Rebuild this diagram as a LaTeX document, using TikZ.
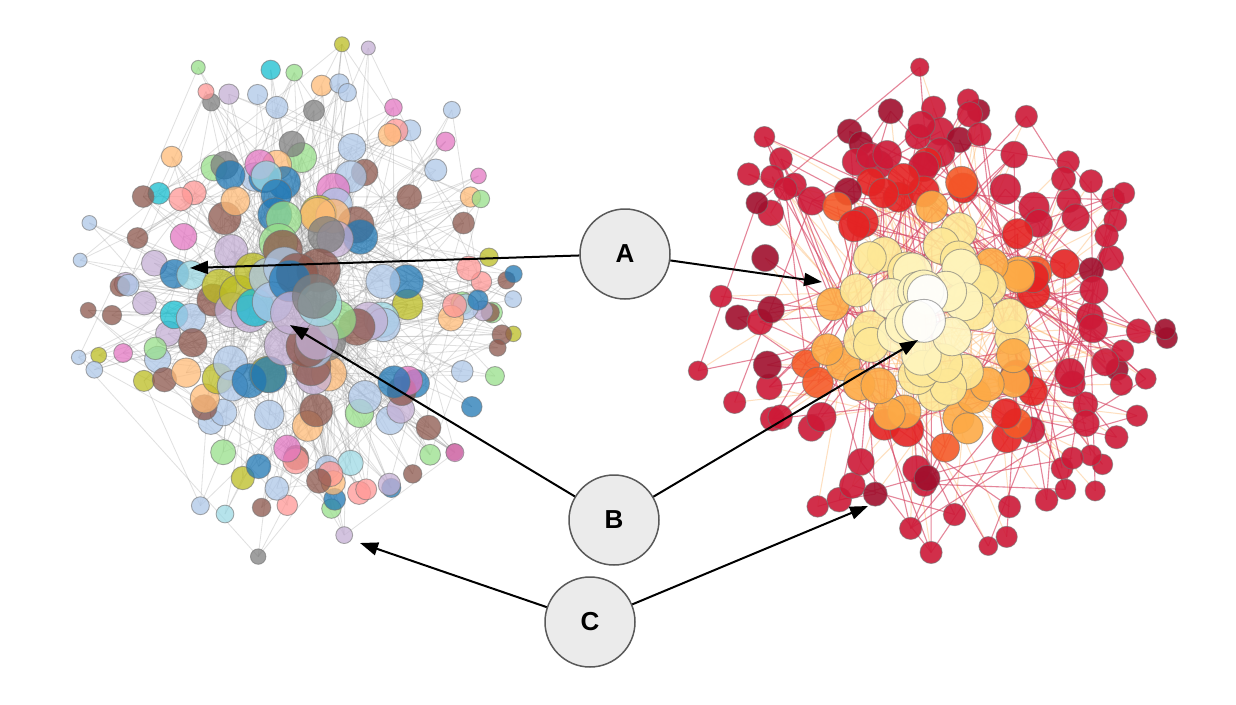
\documentclass[tikz,border=0pt]{standalone}
\usepackage{fontspec}
\setsansfont{Liberation Sans}
\usetikzlibrary{arrows.meta}

% left network palette
\definecolor{lc0}{RGB}{31,119,180}
\definecolor{lc1}{RGB}{174,199,232}
\definecolor{lc2}{RGB}{255,187,120}
\definecolor{lc3}{RGB}{152,223,138}
\definecolor{lc4}{RGB}{140,86,75}
\definecolor{lc5}{RGB}{227,119,194}
\definecolor{lc6}{RGB}{197,176,213}
\definecolor{lc7}{RGB}{158,218,229}
\definecolor{lc8}{RGB}{255,152,150}
\definecolor{lc9}{RGB}{127,127,127}
\definecolor{lc10}{RGB}{188,189,34}
\definecolor{lc11}{RGB}{23,190,207}
% right network palette
\definecolor{rc0}{RGB}{255,255,255}
\definecolor{rc1}{RGB}{255,245,190}
\definecolor{rc2}{RGB}{254,232,150}
\definecolor{rc3}{RGB}{253,170,70}
\definecolor{rc4}{RGB}{245,90,40}
\definecolor{rc5}{RGB}{228,35,35}
\definecolor{rc6}{RGB}{205,25,55}
\definecolor{rc7}{RGB}{160,15,45}
\definecolor{redge}{RGB}{215,70,100}
\definecolor{oedge}{RGB}{253,175,95}

\tikzset{
  lnode/.style={circle, inner sep=0pt, draw=black!55, line width=0.9pt, fill opacity=0.75, draw opacity=0.6},
  rnode/.style={circle, inner sep=0pt, draw=black!55, line width=0.9pt, fill opacity=0.9, draw opacity=0.6},
  ledge/.style={draw=gray!80, line width=0.8pt, opacity=0.3},
  redgeline/.style={draw=redge, line width=1.1pt, opacity=0.65},
  oedgeline/.style={draw=oedge, line width=1pt, opacity=0.4},
  tagcircle/.style={circle, draw=black!65, fill=black!8, line width=1.5pt, minimum size=90pt, inner sep=0pt, font=\sffamily\bfseries\fontsize{26}{26}\selectfont},
  pointer/.style={-{Triangle[length=18pt,width=13pt]}, line width=2pt}
}

\begin{document}
\begin{tikzpicture}[x=1pt,y=-1pt]
\useasboundingbox[fill=white] (0,0) rectangle (1236,704);

% left network: positions
\pgfmathsetseed{11}
\foreach \i in {1,...,190}{
  \pgfmathsetmacro\rr{min(1,pow(\i/190,0.6)*(0.85+0.22*rnd))}
  \pgfmathsetmacro\aa{360*rnd}
  \pgfmathsetmacro\s{max(7,22-16*\rr+2*rnd)}
  \expandafter\xdef\csname Ls\i\endcsname{\s}
  \coordinate (L\i) at ({305+232*\rr*cos(\aa)},{300+262*\rr*sin(\aa)});
}
% left network: edges
\foreach \i in {1,...,190}{
  \pgfmathtruncatemacro\j{random(1,30)}
  \pgfmathtruncatemacro\m{random(1,60)}
  \pgfmathtruncatemacro\k{random(1,190)}
  \draw[ledge] (L\i) -- (L\j);
  \draw[ledge] (L\i) -- (L\m);
  \draw[ledge] (L\i) -- (L\k);
}
% left network: nodes
\foreach \i in {190,189,...,1}{
  \pgfmathparse{{0,0,0,1,1,1,1,2,2,3,3,3,4,4,4,4,5,5,6,6,6,7,7,8,8,9,10,11}[random(0,27)]}
  \pgfmathtruncatemacro\ci{\pgfmathresult}
  \edef\sz{\csname Ls\i\endcsname}
  \node[lnode, fill=lc\ci, minimum size={2*\sz pt}] (nl\i) at (L\i) {};
}

% right network: positions
\pgfmathsetseed{23}
\foreach \i in {1,...,175}{
  \pgfmathsetmacro\rr{min(1,pow(\i/175,0.62)*(0.85+0.22*rnd))}
  \pgfmathsetmacro\aa{360*rnd}
  \pgfmathsetmacro\s{max(9,20-11*\rr+2*rnd)}
  \pgfmathtruncatemacro\tt{min(19,max(0,floor(20*(\rr+0.08*(rnd-0.5)))))}
  \pgfmathparse{{0,1,1,1,2,2,2,3,3,5,4,5,6,6,6,6,6,6,6,6}[\tt]}
  \pgfmathtruncatemacro\ci{\pgfmathresult}
  \pgfmathtruncatemacro\ci{ifthenelse(and(\ci==6,rnd<0.2),7,\ci)}
  \expandafter\xdef\csname Rs\i\endcsname{\s}
  \expandafter\xdef\csname Rc\i\endcsname{\ci}
  \coordinate (R\i) at ({930+238*\rr*cos(\aa)},{315+248*\rr*sin(\aa)});
}
% right network: edges
\foreach \i in {1,...,175}{
  \pgfmathtruncatemacro\j{random(1,45)}
  \draw[oedgeline] (R\i) -- (R\j);
}
\foreach \i in {45,...,175}{
  \pgfmathtruncatemacro\k{random(45,175)}
  \draw[redgeline] (R\i) -- (R\k);
}
% right network: nodes
\foreach \i in {175,174,...,1}{
  \edef\sz{\csname Rs\i\endcsname}
  \edef\cc{\csname Rc\i\endcsname}
  \node[rnode, fill=rc\cc, minimum size={2*\sz pt}] (nr\i) at (R\i) {};
}

% labels and pointers
\node[tagcircle] (A) at (625,254) {A};
\node[tagcircle] (B) at (614,520) {B};
\node[tagcircle] (C) at (590,622) {C};
\coordinate (aL) at (190,268);
\coordinate (aR) at (822,282);
\coordinate (bL) at (290,325);
\coordinate (bR) at (918,340);
\coordinate (cL) at (360,543);
\coordinate (cR) at (868,506);
\draw[pointer] (A) -- (aL);
\draw[pointer] (A) -- (aR);
\draw[pointer] (B) -- (bL);
\draw[pointer] (B) -- (bR);
\draw[pointer] (C) -- (cL);
\draw[pointer] (C) -- (cR);
\end{tikzpicture}
\end{document}
